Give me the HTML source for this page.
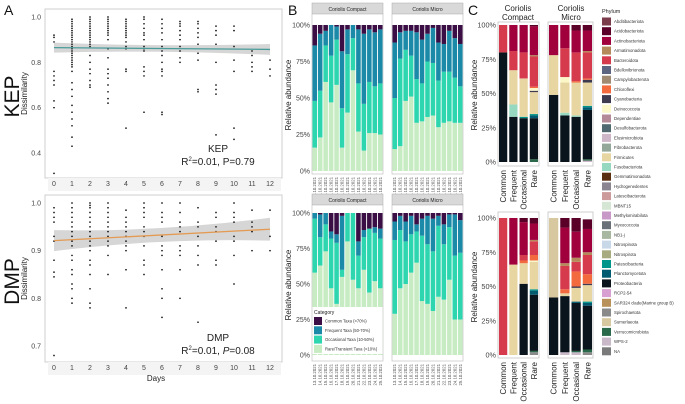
<!DOCTYPE html>
<html><head><meta charset="utf-8">
<style>
html,body{margin:0;padding:0;background:#fff;}
svg{display:block;font-family:"Liberation Sans",Arial,sans-serif;}
</style></head>
<body>
<svg id="fig" width="685" height="404" viewBox="0 0 685 404"></svg>
<script>
// ---------- Panel A data ----------
const aDays = [0,1,2,3,4,5,6,7,8,9,10,11,12];
const kepValues = [
 [0.92,0.91,0.89,0.76,0.74,0.72,0.70,0.63,0.60,0.31],
 [0.99,0.98,0.97,0.96,0.95,0.94,0.93,0.92,0.91,0.90,0.89,0.88,0.87,0.86,0.85,0.84,0.83,0.82,0.81,0.80,0.79,0.78,0.76,0.71,0.68,0.65,0.61,0.58,0.55,0.52,0.47,0.43],
 [1.0,0.99,0.98,0.97,0.96,0.95,0.94,0.93,0.92,0.91,0.90,0.89,0.88,0.87,0.83,0.80,0.77,0.75,0.72,0.70,0.69],
 [1.0,0.99,0.98,0.97,0.96,0.95,0.94,0.93,0.92,0.90,0.86,0.82,0.77,0.75,0.73,0.70,0.67,0.64,0.62],
 [0.99,0.98,0.97,0.96,0.95,0.94,0.93,0.92,0.91,0.89,0.87,0.86,0.77,0.76,0.51],
 [1.0,0.99,0.97,0.95,0.93,0.92,0.90,0.87,0.86,0.85,0.78,0.76,0.74,0.58],
 [0.99,0.97,0.95,0.93,0.90,0.87,0.85,0.83,0.80,0.77,0.76,0.74,0.58,0.57],
 [0.98,0.97,0.96,0.94,0.92,0.90,0.87,0.85,0.82,0.80],
 [0.98,0.97,0.95,0.93,0.91,0.88,0.84,0.81,0.68,0.67],
 [0.96,0.94,0.92,0.88,0.80,0.70,0.68,0.66,0.48],
 [0.96,0.94,0.87,0.81,0.76,0.51,0.46],
 [0.85,0.83,0.80,0.78,0.76],
 [0.81,0.77,0.74]
];
const dmpValues = [
 [0.99,0.98,0.97,0.96,0.93,0.92,0.88,0.855,0.845,0.68],
 [1.0,0.99,0.98,0.97,0.96,0.95,0.94,0.93,0.92,0.91,0.89,0.88,0.86,0.85,0.83,0.82,0.80,0.79],
 [1.0,0.995,0.99,0.98,0.97,0.96,0.95,0.94,0.93,0.92,0.91,0.90,0.88,0.87,0.85,0.82,0.79,0.78],
 [1.0,0.99,0.98,0.97,0.96,0.95,0.94,0.93,0.92,0.91,0.89,0.85],
 [0.985,0.97,0.96,0.95,0.94,0.93,0.92,0.91,0.90,0.86,0.78],
 [1.0,0.99,0.98,0.97,0.95,0.94,0.93,0.91,0.88,0.87,0.85],
 [1.0,0.98,0.97,0.96,0.93,0.91,0.90,0.89,0.86,0.82,0.80,0.76],
 [1.0,0.98,0.96,0.95,0.94,0.91,0.90,0.89,0.86,0.80],
 [0.99,0.96,0.95,0.93,0.91,0.89,0.87,0.75],
 [0.98,0.97,0.95,0.94,0.92,0.88,0.87],
 [1.0,0.98,0.97,0.96,0.93,0.92,0.89,0.83],
 [0.985,0.96,0.95,0.94,0.90],
 [0.985,0.93,0.90]
];
const kepTicks = [0.4,0.6,0.8,1.0];
const dmpTicks = [0.7,0.8,0.9,1.0];
const kepTrend = [0.865,0.857];
const dmpTrend = [0.921,0.945];

// ---------- Panel B data (cumulative tops: rare, occasional, frequent; common = rest) ----------
const bDates = ["13.10.2021","14.10.2021","15.10.2021","16.10.2021","17.10.2021","18.10.2021","19.10.2021","20.10.2021","21.10.2021","22.10.2021","23.10.2021","24.10.2021","25.10.2021"];
const bTopCompact = [[16,48,86],[23,55,94],[61,86,96],[47,79,100],[59,90,99],[16,43,82],[40,80,97],[69,91,100],[27,60,97],[14,46,94],[26,61,97],[26,58,95],[25,60,97]];
const bTopMicro = [[15,50,88],[17,77,95],[48,83,96],[51,79,96],[33,63,95],[34,60,90],[37,75,94],[38,74,98],[30,62,88],[33,68,87],[34,68,96],[33,64,91],[33,58,87]];
const bBotCompact = [[58,96,100],[63,83,99],[73,92,100],[47,82,87],[36,79,85],[55,60,98],[80,100,100],[53,100,100],[47,70,80],[60,83,88],[44,89,89],[52,86,90],[47,82,89]];
const bBotMicro = [[29,81,94],[47,88,98],[50,80,94],[58,85,98],[65,87,92],[38,84,96],[36,78,98],[31,73,96],[41,91,98],[39,78,92],[53,90,99],[25,70,99],[25,72,95]];
const bCats = ["Common Taxa (>70%)","Frequent Taxa (50-70%)","Occasional Taxa (10-50%)","Rare/Transient Taxa (<10%)"];
const bColors = ["#3b0f45","#1a8aa8","#2ed6b0","#c7ebc2"];
const pctTicks = [0,25,50,75,100];

// ---------- Panel C data ----------
const phyla = ["Abditibacteriota","Acidobacteriota","Actinobacteriota","Armatimonadota","Bacteroidota","Bdellovibrionota","Campylobacterota","Chloroflexi","Cyanobacteria","Deinococcota","Dependentiae","Desulfobacterota","Elusimicrobiota","Fibrobacterota","Firmicutes","Fusobacteriota","Gemmatimonadota","Hydrogenedentes","Latescibacterota","MBNT15","Methylomirabilota","Myxococcota","NB1-j","Nitrospinota","Nitrospirota","Patescibacteria","Planctomycetota","Proteobacteria","RCP2-54","SAR324 clade(Marine group B)","Spirochaetota","Sumerlaeota","Verrucomicrobiota","WPS-2","NA"];
const phylaColors = ["#7a3b4a","#5a0028","#a0003c","#b58a5a","#d63a4d","#5d6580","#a08a72","#f46a3f","#3e3a50","#fbf7c8","#b48a98","#506870","#cdb6c8","#94a89a","#e8d6a2","#96d8c0","#5a2e10","#8a8590","#cc9a9a","#d6e6d4","#c898c8","#6a7078","#a8b8a0","#c8d8e8","#a8aa80","#00958a","#005a70","#0a141c","#d8a0d0","#b8925a","#8a8a8a","#d8c8a0","#2a6a4a","#c8b8c8","#7a7a7a"];
const cCats = ["Common","Frequent","Occasional","Rare"];
const cTopCompact = [
 [["Proteobacteria",80],["Bacteroidota",20]],
 [["Proteobacteria",33],["Fusobacteriota",9],["Firmicutes",25],["Bacteroidota",14],["Actinobacteriota",19]],
 [["Proteobacteria",32],["Patescibacteria",1],["Firmicutes",28],["Bacteroidota",19],["Actinobacteriota",20]],
 [["Verrucomicrobiota",2],["Proteobacteria",30],["Planctomycetota",2],["Patescibacteria",1],["Firmicutes",16],["Cyanobacteria",1],["Deinococcota",2],["Chloroflexi",1],["Bacteroidota",22],["Armatimonadota",1],["Actinobacteriota",21],["Acidobacteriota",1]]
];
const cTopMicro = [
 [["Proteobacteria",49],["Firmicutes",29],["Actinobacteriota",22]],
 [["Proteobacteria",34],["Fusobacteriota",2],["Firmicutes",22],["Deinococcota",4],["Bacteroidota",21],["Actinobacteriota",17]],
 [["Proteobacteria",33],["Fusobacteriota",1],["Firmicutes",24],["Chloroflexi",1],["Bacteroidota",21],["Actinobacteriota",16],["Acidobacteriota",4]],
 [["Elusimicrobiota",1],["Verrucomicrobiota",1],["Proteobacteria",36],["Planctomycetota",2],["Patescibacteria",1],["Firmicutes",17],["Cyanobacteria",2],["Chloroflexi",1],["Bacteroidota",19],["Armatimonadota",1],["Actinobacteriota",15],["Acidobacteriota",4]]
];
const cBotCompact = [
 [["Bacteroidota",100]],
 [["Firmicutes",66],["Actinobacteriota",34]],
 [["Proteobacteria",52],["Firmicutes",15],["Chloroflexi",2],["Bacteroidota",4],["Actinobacteriota",24],["Acidobacteriota",3]],
 [["Spirochaetota",2],["Verrucomicrobiota",1],["Proteobacteria",41],["Planctomycetota",3],["Patescibacteria",1],["Firmicutes",20],["Deinococcota",1],["Chloroflexi",4],["Bacteroidota",10],["Armatimonadota",1],["Actinobacteriota",12],["Acidobacteriota",4]]
];
const cBotMicro = [
 [["Proteobacteria",42],["Sumerlaeota",58]],
 [["WPS-2",2],["Proteobacteria",41],["Firmicutes",2],["Chloroflexi",3],["Bacteroidota",17],["Armatimonadota",2],["Actinobacteriota",26],["Acidobacteriota",7]],
 [["WPS-2",2],["Verrucomicrobiota",1],["Proteobacteria",35],["Planctomycetota",1],["Firmicutes",10],["Cyanobacteria",1],["Chloroflexi",11],["Bacteroidota",7],["Armatimonadota",3],["Actinobacteriota",19],["Acidobacteriota",10]],
 [["Spirochaetota",2],["Verrucomicrobiota",2],["Proteobacteria",32],["Planctomycetota",2],["Patescibacteria",1],["Firmicutes",12],["Cyanobacteria",1],["Chloroflexi",7],["Bacteroidota",14],["Armatimonadota",2],["Actinobacteriota",17],["Acidobacteriota",7]]
];

const svg = document.getElementById('fig');
const NS = 'http://www.w3.org/2000/svg';
function mk(tag, attrs, parent){
  const e = document.createElementNS(NS, tag);
  for (const k in attrs) e.setAttribute(k, attrs[k]);
  (parent||svg).appendChild(e);
  return e;
}
function txt(x,y,s,size,opts,parent){
  const t = mk('text', Object.assign({x:x,y:y,'font-size':size,fill:'#222'},opts||{}), parent);
  t.textContent = s;
  return t;
}

// ---------- Panel A ----------
const ax = d => 54 + d*(270-54)/12;
function drawScatter(vals, ticks, trend, yTop, yTopVal, yBot, yBotVal, frameY0, frameY1, name, label, stat1, stat2Italic, textY){
  const ys = v => yBot + (v - yBotVal) * (yTop - yBot) / (yTopVal - yBotVal);
  const g = mk('g', {});
  
  
  const fr = mk('rect', {x:45,y:frameY0,width:237,height:frameY1-frameY0,fill:'#fff',stroke:'#cfcfcf','stroke-width':1}, g);
  
  
  const strip = mk('rect', {x:48,y:frameY1,width:233,height:13,fill:'#f4f4f4'}, g);
  
  
  ticks.forEach(t => {
    const l = txt(41, ys(t)+2.5, t.toFixed(1), 7, {'text-anchor':'end',fill:'#444'}, g);
    
    
  });
  aDays.forEach(d => {
    const l = txt(ax(d), frameY1+8, String(d), 7, {'text-anchor':'middle',fill:'#444'}, g);
    
    
  });
  const x0 = ax(0), x1 = ax(12);
  const mid = (trend[0]+trend[1])/2;
  const band = mk('path', {d:`M${x0},${ys(trend[0]+0.022)} Q${ax(6)},${ys(mid+0.006)} ${x1},${ys(trend[1]+0.024)} L${x1},${ys(trend[1]-0.024)} Q${ax(6)},${ys(mid-0.006)} ${x0},${ys(trend[0]-0.022)} Z`, fill:'#cccccc', opacity:0.8}, g);
  
  
  vals.forEach((arr, i) => arr.forEach(v => {
    const c = mk('circle', {cx:ax(aDays[i]), cy:ys(v), r:0.85, fill:'#111'}, g);
    
    
  }));
  const ln = mk('line', {x1:x0,y1:ys(trend[0]),x2:x1,y2:ys(trend[1]),stroke: name==='kep' ? '#4a9c9a' : '#e39a52','stroke-width':1.3}, g);
  
  
  const big = txt(0,0,label,21,{'text-anchor':'middle',fill:'#111',transform:`translate(19,${(frameY0+frameY1)/2+3}) rotate(-90)`}, g);
  
  
  const yt = txt(0,0,'Dissimilarity',8,{'text-anchor':'middle',fill:'#222',transform:`translate(27,${(frameY0+frameY1)/2}) rotate(-90)`}, g);
  
  
  const s1 = txt(218, textY, label, 10, {'text-anchor':'middle',fill:'#222'}, g);
  
  
  const s2 = mk('text', {x:218,y:textY+13,'font-size':10,'text-anchor':'middle',fill:'#222'}, g);
  
  
  s2.innerHTML = stat2Italic
    ? 'R<tspan font-size="6" dy="-4">2</tspan><tspan dy="4">=0.01, </tspan><tspan font-style="italic">P</tspan>=' + stat1
    : 'R<tspan font-size="6" dy="-4">2</tspan><tspan dy="4">=0.01, P=' + stat1 + '</tspan>';
}
drawScatter(kepValues, kepTicks, kepTrend, 17, 1.0, 153, 0.4, 9, 178, 'kep', 'KEP', '0.79', false, 152);
drawScatter(dmpValues, dmpTicks, dmpTrend, 203, 1.0, 346, 0.7, 195, 362, 'dmp', 'DMP', '0.08', true, 341);
const daysT = txt(156, 381, 'Days', 8, {'text-anchor':'middle',fill:'#222'});



[['A',4,15],['B',288,15],['C',468,15]].forEach(p => {
  const t = txt(p[1], p[2], p[0], 14, {fill:'#111'});
  
  
});

// ---------- Panel B ----------
function drawB(data, fx, y0f, y1f, yZero, yHundred, title, name, showTicks){
  const yv = p => yZero + (yHundred - yZero) * p / 100;
  const g = mk('g', {});
  
  
  const st = mk('rect', {x:fx,y:y0f-11,width:71,height:11,fill:'#d9d9d9',stroke:'#aaa','stroke-width':0.5}, g);
  
  
  const stt = txt(fx+35.5, y0f-3, title, 5, {'text-anchor':'middle',fill:'#222'}, g);
  
  
  const fr = mk('rect', {x:fx,y:y0f,width:71,height:y1f-y0f,fill:'#fff',stroke:'#bbb','stroke-width':0.6}, g);
  
  
  const step = 71/13;
  data.forEach((d,i) => {
    const bx = fx + i*step + 0.45;
    const bw = step - 0.9;
    const bounds = [0, d[0], d[1], d[2], 100];
    for (let k=0;k<4;k++){
      const lo = bounds[k], hi = bounds[k+1];
      if (hi - lo <= 0) continue;
      const r = mk('rect', {x:bx,y:yv(hi),width:bw,height:yv(lo)-yv(hi),fill:bColors[3-k]}, g);
      
      
    }
    const dl = txt(0,0,bDates[i],4.3,{'text-anchor':'end',fill:'#555',transform:`translate(${bx+bw/2+1.5},${y1f+3}) rotate(-90)`}, g);
    
    
  });
  if (showTicks){
    pctTicks.forEach(t => {
      const l = txt(fx-2, yv(t)+2.5, t + '%', 7, {'text-anchor':'end',fill:'#444'}, g);
      
      
    });
  }
}
drawB(bTopCompact, 312, 14, 174, 171, 25, 'Coriolis Compact', 'b-top-compact', true);
drawB(bTopMicro, 392, 14, 174, 171, 25, 'Coriolis Micro', 'b-top-micro', false);
drawB(bBotCompact, 312, 205, 361, 355, 213, 'Coriolis Compact', 'b-bottom-compact', true);
drawB(bBotMicro, 392, 205, 361, 355, 213, 'Coriolis Micro', 'b-bottom-micro', false);
[95, 285].forEach(cy => {
  const t = txt(0,0,'Relative abundance',8,{'text-anchor':'middle',fill:'#222',transform:`translate(291,${cy}) rotate(-90)`});
  
  
});
const bl = mk('g', {});


mk('rect', {x:312.5,y:307,width:70,height:47,fill:'#fff'}, bl);
const blt = txt(314, 314, 'Category', 5, {fill:'#222'}, bl);


bCats.forEach((c,i) => {
  const y = 317 + i*9.3;
  const s = mk('rect', {x:314,y:y,width:8,height:8,fill:bColors[i]}, bl);
  
  
  const t = txt(325, y+5.5, c, 4.2, {fill:'#333'}, bl);
  
  
});

// ---------- Panel C ----------
const colorOf = p => phylaColors[phyla.indexOf(p)];
function drawC(data, fx, fw, y0f, y1f, yZero, yHundred, name, showTicks){
  const yv = p => yZero + (yHundred - yZero) * p / 100;
  const g = mk('g', {});
  
  
  const fr = mk('rect', {x:fx,y:y0f,width:fw,height:y1f-y0f,fill:'#fff',stroke:'#bbb','stroke-width':0.7}, g);
  
  
  const step = fw/4;
  data.forEach((stack,i) => {
    const bx = fx + i*step + 1;
    const bw = step - 2;
    let cum = 0;
    stack.forEach(s => {
      const lo = cum, hi = cum + s[1];
      cum = hi;
      const r = mk('rect', {x:bx,y:yv(hi),width:bw,height:yv(lo)-yv(hi),fill:colorOf(s[0])}, g);
      
      
    });
    const l = txt(0,0,cCats[i],8,{'text-anchor':'end',fill:'#222',transform:`translate(${bx+bw/2+3},${y1f+4}) rotate(-90)`}, g);
    
    
  });
  if (showTicks){
    pctTicks.forEach(t => {
      const l = txt(fx-2, yv(t)+2.5, t + '%', 7.3, {'text-anchor':'end',fill:'#444'}, g);
      
      
    });
  }
}
drawC(cTopCompact, 498, 41, 22, 166, 162, 25, 'c-top-compact', true);
drawC(cTopMicro, 548, 45, 22, 166, 162, 25, 'c-top-micro', false);
drawC(cBotCompact, 498, 41, 212, 358, 355, 218, 'c-bottom-compact', true);
drawC(cBotMicro, 548, 45, 212, 358, 355, 218, 'c-bottom-micro', false);
[['Coriolis','Compact',518],['Coriolis','Micro',571]].forEach(h => {
  const t1 = txt(h[2], 11, h[0], 8, {'text-anchor':'middle',fill:'#222'});
  
  
  const t2 = txt(h[2], 20, h[1], 8, {'text-anchor':'middle',fill:'#222'});
  
  
});
[95, 287].forEach(cy => {
  const t = txt(0,0,'Relative abundance',8,{'text-anchor':'middle',fill:'#222',transform:`translate(477,${cy}) rotate(-90)`});
  
  
});
const pl = mk('g', {});


const plt = txt(602, 13, 'Phylum', 5.5, {fill:'#222'}, pl);


phyla.forEach((p,i) => {
  const y = 17.5 + i*9.7;
  const s = mk('rect', {x:602,y:y,width:9,height:8,fill:phylaColors[i]}, pl);
  
  
  const t = txt(614, y+5.5, p, 4.3, {fill:'#333'}, pl);
  
  
});
</script>
</body></html>
